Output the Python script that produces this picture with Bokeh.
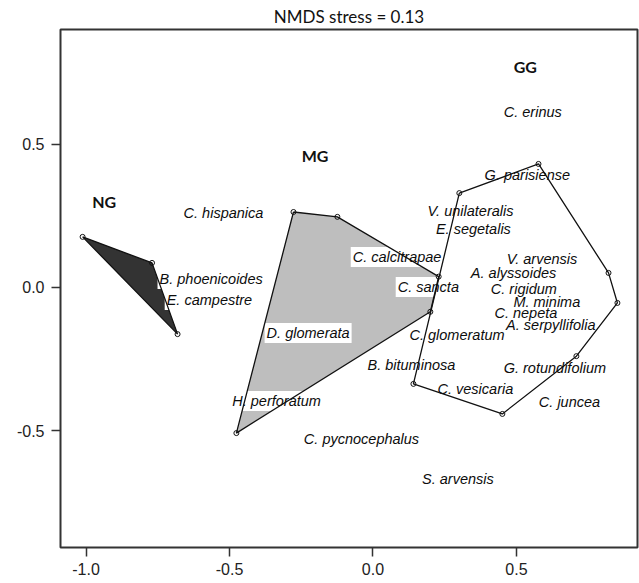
from bokeh.plotting import figure
from bokeh.models import Range1d, NumeralTickFormatter, FixedTicker
from bokeh.core.properties import value
from bokeh.embed import file_html
from bokeh.resources import INLINE

# ---- data ----
title_text = "NMDS stress = 0.13"

ng_x = [-1.012, -0.770, -0.681]
ng_y = [0.177, 0.086, -0.163]

mg_x = [-0.277, -0.124, 0.229, 0.200, -0.476]
mg_y = [0.264, 0.247, 0.038, -0.085, -0.509]

gg_x = [0.301, 0.577, 0.821, 0.852, 0.709, 0.451, 0.141]
gg_y = [0.330, 0.432, 0.051, -0.054, -0.240, -0.442, -0.337]

group_names = ["NG", "MG", "GG"]
group_x = [-0.937, -0.202, 0.531]
group_y = [0.302, 0.463, 0.774]

# species labels drawn over the filled hulls (white boxed)
boxed_species = ["B. phoenicoides", "E. campestre", "C. calcitrapae", "C. sancta",
                 "D. glomerata", "H. perforatum"]
boxed_x = [-0.564, -0.570, 0.084, 0.193, -0.226, -0.336]
boxed_y = [0.030, -0.044, 0.107, 0.002, -0.159, -0.397]

species = ["C. erinus", "C. hispanica", "G. parisiense", "V. unilateralis", "E. segetalis",
           "V. arvensis", "A. alyssoides", "C. rigidum", "M. minima", "C. nepeta",
           "A. serpyllifolia", "C. glomeratum", "B. bituminosa", "G. rotundifolium",
           "C. vesicaria", "C. juncea", "C. pycnocephalus", "S. arvensis"]
sp_x = [0.557, -0.521, 0.538, 0.340, 0.350, 0.589, 0.490, 0.526, 0.606, 0.533,
        0.620, 0.293, 0.134, 0.634, 0.357, 0.685, -0.040, 0.296]
sp_y = [0.614, 0.259, 0.393, 0.267, 0.205, 0.100, 0.051, -0.005, -0.051, -0.089,
        -0.131, -0.166, -0.271, -0.281, -0.355, -0.400, -0.530, -0.670]

xtick_vals = [-1.0, -0.5, 0.0, 0.5]
ytick_vals = [-0.5, 0.0, 0.5]

# ---- figure ----
p = figure(width=639, height=583, output_backend="svg", toolbar_location=None,
           x_range=Range1d(-1.089, 0.922), y_range=Range1d(-0.909, 0.902),
           min_border_left=60, min_border_top=29, min_border_right=2, min_border_bottom=36)
p.grid.visible = False
p.background_fill_color = "white"
p.border_fill_color = "white"
p.outline_line_color = "#333333"
p.outline_line_width = 2

p.title.text = title_text
p.title.align = "center"
p.title.text_font = "Lato"
p.title.text_font_style = "normal"
p.title.text_font_size = "17px"
p.title.text_color = "#111111"
p.title.standoff = 6
p.title.offset = 0

for ax, ticks in ((p.xaxis, xtick_vals), (p.yaxis, ytick_vals)):
    ax.ticker = FixedTicker(ticks=ticks)
    ax.formatter = NumeralTickFormatter(format="0.0")
    ax.axis_line_color = None
    ax.major_tick_line_color = "#333333"
    ax.major_tick_line_width = 1.5
    ax.major_tick_in = 0
    ax.major_tick_out = 9
    ax.minor_tick_line_color = None
    ax.major_label_text_font = "Liberation Sans"
    ax.major_label_text_font_size = "16px"
    ax.major_label_text_color = "#222222"
p.xaxis.major_label_standoff = 6
p.yaxis.major_label_standoff = 7

# filled hulls
p.patch(ng_x, ng_y, fill_color="#333333", line_color=None)
p.patch(mg_x, mg_y, fill_color="#bebebe", line_color=None)

# labels
txt_common = dict(text_font=value("Liberation Sans"), text_font_style="italic",
                  text_font_size="14.5px", text_color="#0d0d0d",
                  text_align="center", text_baseline="middle")
p.text(x=boxed_x, y=boxed_y, text=boxed_species, background_fill_color="white",
       padding=2, **txt_common)
p.text(x=sp_x, y=sp_y, text=species, **txt_common)
p.text(x=group_x, y=group_y, text=group_names, text_font=value("Lato"),
       text_font_style="bold", text_font_size="16px", text_color="#111111",
       text_align="center", text_baseline="middle")

# hull outlines and vertices
for hx, hy in ((ng_x, ng_y), (mg_x, mg_y), (gg_x, gg_y)):
    p.line(hx + hx[:1], hy + hy[:1], line_color="#111111", line_width=1.3)
    p.scatter(hx, hy, marker="circle", size=5, fill_color=None,
              line_color="#111111", line_width=1)

open("out.html", "w").write(file_html(p, INLINE))
